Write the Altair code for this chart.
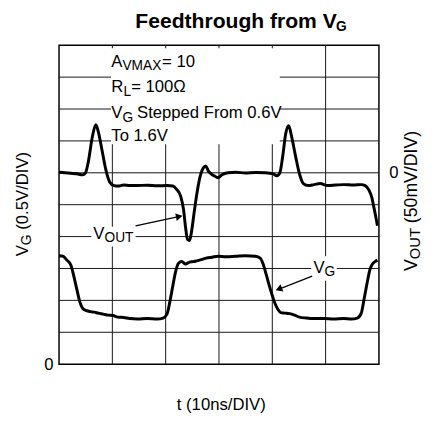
import altair as alt
import pandas as pd

# ---------------- data ----------------
# V_OUT trace: time (ns) and output voltage (mV)
vout_t = [0, 1.10, 2.21, 3.31, 4.42, 4.97, 5.52, 6.26, 6.90, 7.36, 8.10, 8.83, 9.57,
          10.31, 11.04, 12.15, 13.25, 14.72, 16.56, 18.40, 20.25, 21.35, 22.09, 22.82,
          23.37, 23.74, 24.11, 24.48, 24.85, 25.40, 25.95, 26.50, 27.06, 27.52, 27.98,
          28.53, 29.08, 29.82, 30.55, 31.66, 33.13, 34.97, 36.81, 38.65, 40.12, 40.86,
          41.41, 41.96, 42.52, 43.07, 43.62, 44.36, 45.09, 45.83, 46.75, 47.85, 48.96,
          50.43, 51.90, 53.37, 55.21, 56.69, 57.42, 58.16, 58.71, 59.08, 59.45, 59.72]
vout_mv = [0.8, 0.0, -0.8, -1.5, -3.1, 0.0, 18.5, 56.9, 75.4, 64.6, 33.8, 3.1, -15.4,
           -20.0, -20.8, -19.2, -20.0, -20.0, -19.5, -20.3, -20.0, -20.8, -26.2, -36.9,
           -58.5, -86.2, -104.6, -106.2, -92.3, -58.5, -27.7, -4.6, 7.7, 10.8, 3.1,
           -1.5, -4.6, -7.7, -3.1, 0.0, 0.8, -0.3, 0.5, 0.0, -1.5, -4.6,
           0.0, 26.2, 61.5, 73.8, 56.9, 26.2, -1.5, -16.9, -20.0, -18.5, -16.9,
           -20.0, -19.2, -18.5, -19.2, -18.5, -20.0, -27.7, -40.0, -55.4, -70.8, -83.1]

# V_G trace: time (ns) and gate voltage (V)
vg_t = [0, 0.74, 1.47, 2.21, 2.76, 3.31, 3.87, 4.42, 5.15, 5.89, 6.63, 7.36, 8.28, 9.20,
        10.12, 11.04, 12.15, 13.25, 14.72, 16.56, 18.40, 19.51, 20.25, 20.80, 21.35,
        21.90, 22.45, 23.01, 23.74, 24.48, 25.21, 25.95, 26.69, 27.61, 28.71, 29.82,
        31.29, 33.13, 34.97, 36.81, 37.73, 38.28, 38.83, 39.38, 39.94, 40.49, 41.04,
        41.59, 42.33, 43.25, 44.17, 45.09, 46.38, 47.85, 49.69, 51.53, 53.37, 54.84,
        55.94, 56.69, 57.24, 57.79, 58.34, 58.90, 59.27, 59.72]
vg_v = [1.700, 1.692, 1.631, 1.554, 1.385, 1.185, 0.985, 0.877, 0.838, 0.823, 0.815,
        0.800, 0.785, 0.769, 0.762, 0.738, 0.731, 0.715, 0.708, 0.715, 0.708, 0.723,
        0.785, 0.985, 1.231, 1.462, 1.585, 1.608, 1.569, 1.600, 1.608, 1.623, 1.638,
        1.662, 1.677, 1.692, 1.685, 1.692, 1.700, 1.692, 1.662, 1.569, 1.415, 1.246,
        1.092, 0.954, 0.862, 0.808, 0.800, 0.792, 0.769, 0.738, 0.723, 0.715, 0.715,
        0.708, 0.715, 0.708, 0.723, 0.800, 1.031, 1.277, 1.492, 1.585, 1.608, 1.631]

# grid / tick values
x_grid = [10, 20, 30, 40, 50]                    # 10 ns / DIV
vg_grid = [0.5, 1.0, 1.5, 2.0, 2.5, 3.0, 3.5, 4.0, 4.5]   # 0.5 V / DIV
vg_labels = [0]
vout_labels = [0]

# annotation texts
ann_text = ["A", "VMAX", "= 10", "R", "L", "= 100Ω", "V", "G", "Stepped From 0.6V",
            "To 1.6V", "V", "OUT", "V", "G", "t (10ns/DIV)",
            "V", "G", "(0.5V/DIV)", "V", "OUT", "(50mV/DIV)"]
ann_t = [9.81, 11.89, 19.33, 9.81, 12.07, 13.53, 9.81, 11.89, 14.63,
         9.81, 6.44, 8.52, 47.72, 49.80, 22.09,
         -5.89, -5.34, -5.89, 67.18, 67.73, 67.18]
ann_v = [4.662, 4.611, 4.662, 4.272, 4.211, 4.272, 3.862, 3.800, 3.862,
         3.503, 1.962, 1.923, 1.431, 1.385, -0.723,
         1.692, 1.866, 2.108, 1.4615, 1.646, 2.211]
ann_size = [17, 14, 17, 17, 14, 17, 17, 14, 17, 17, 17, 14, 17, 14, 17,
            17, 14, 17, 18, 15, 18]
ann_angle = [0] * 15 + [270] * 6

title_text = ["Feedthrough from V", "G"]
title_t = [52.09, 53.93]
title_v = [5.277, 5.223]
title_size = [21.5, 14]

# white label backgrounds (t1, t2, v1, v2)
box_t1 = [9.75, 6.07, 47.30]
box_t2 = [41.41, 14.36, 52.09]
box_v1 = [4.954, 2.154, 1.692]
box_v2 = [3.446, 1.846, 1.308]

# arrows: shaft start/end and head
arr_t1 = [14.36, 47.48]
arr_v1 = [2.169, 1.380]
arr_t2 = [22.64, 41.04]
arr_v2 = [2.315, 1.169]
head_t = [22.55, 41.23]
head_v = [2.315, 1.177]
head_angle = [348.5, 158.6]

# ---------------- tables ----------------
vout_df = pd.DataFrame({"t": vout_t, "mv": vout_mv})
vg_df = pd.DataFrame({"t": vg_t, "v": vg_v})
ann_df = pd.DataFrame({"text": ann_text, "t": ann_t, "v": ann_v,
                       "size": ann_size, "angle": ann_angle})
title_df = pd.DataFrame({"text": title_text, "t": title_t, "v": title_v, "size": title_size})
box_df = pd.DataFrame({"t": box_t1, "t2": box_t2, "v": box_v1, "v2": box_v2})
arr_df = pd.DataFrame({"t": arr_t1, "v": arr_v1, "t2": arr_t2, "v2": arr_v2})
head_df = pd.DataFrame({"t": head_t, "v": head_v, "angle": head_angle})
xgrid_df = pd.DataFrame({"t": x_grid})
ygrid_df = pd.DataFrame({"v": vg_grid})

FONT = "Liberation Sans"
GRID = "#151515"
xscale = alt.Scale(domain=[0, 60], nice=False, zero=False)
vscale = alt.Scale(domain=[0, 5], nice=False, zero=False)
mvscale = alt.Scale(domain=[-300, 200], nice=False, zero=False)

y_axis = alt.Axis(values=vg_labels, grid=False, ticks=False, domain=False, title=None,
                  labelFontSize=17, labelFont=FONT, labelColor="black",
                  labelPadding=6, labelFlush=False)
y2_axis = alt.Axis(orient="right", values=vout_labels, grid=False, ticks=False,
                   domain=False, title=None, labelFontSize=17, labelFont=FONT,
                   labelColor="black", labelPadding=10, labelFlush=False)

vgrid = alt.Chart(xgrid_df).mark_rule(color=GRID, strokeWidth=1).encode(
    x=alt.X("t:Q", scale=xscale, axis=None),
    y=alt.datum(0, scale=vscale, axis=None), y2=alt.datum(5))

hgrid = alt.Chart(ygrid_df).mark_rule(color=GRID, strokeWidth=1).encode(
    y=alt.Y("v:Q", scale=vscale, axis=None),
    x=alt.datum(0, scale=xscale, axis=None), x2=alt.datum(60))

boxes = alt.Chart(box_df).mark_rect(color="white").encode(
    x=alt.X("t:Q", scale=xscale, axis=None), x2="t2",
    y=alt.Y("v:Q", scale=vscale, axis=None), y2="v2")

vg_line = alt.Chart(vg_df).mark_line(color="black", strokeWidth=3,
                                     interpolate="monotone").encode(
    x=alt.X("t:Q", scale=xscale, axis=None),
    y=alt.Y("v:Q", scale=vscale, axis=y_axis))

vout_line = alt.Chart(vout_df).mark_line(color="black", strokeWidth=3,
                                         interpolate="monotone").encode(
    x=alt.X("t:Q", scale=xscale, axis=None),
    y=alt.Y("mv:Q", scale=mvscale, axis=y2_axis))

shafts = alt.Chart(arr_df).mark_rule(color="black", strokeWidth=1.3).encode(
    x=alt.X("t:Q", scale=xscale, axis=None), x2="t2",
    y=alt.Y("v:Q", scale=vscale, axis=None), y2="v2")

heads = alt.Chart(head_df).mark_point(shape="triangle-right", filled=True,
                                      color="black", opacity=1, size=60).encode(
    x=alt.X("t:Q", scale=xscale, axis=None),
    y=alt.Y("v:Q", scale=vscale, axis=None),
    angle=alt.Angle("angle:Q", scale=None))

texts = alt.Chart(ann_df).mark_text(align="left", baseline="alphabetic", font=FONT,
                                    color="black").encode(
    x=alt.X("t:Q", scale=xscale, axis=None),
    y=alt.Y("v:Q", scale=vscale, axis=None),
    text="text:N",
    size=alt.Size("size:Q", scale=None, legend=None),
    angle=alt.Angle("angle:Q", scale=None))

title = alt.Chart(title_df).mark_text(align="right", baseline="alphabetic", font=FONT,
                                      fontWeight="bold", color="black").encode(
    x=alt.X("t:Q", scale=xscale, axis=None),
    y=alt.Y("v:Q", scale=vscale, axis=None),
    text="text:N",
    size=alt.Size("size:Q", scale=None, legend=None))

chart = alt.layer(vgrid, hgrid, boxes, vg_line, vout_line, shafts, heads, texts,
                  title).resolve_scale(
    y="independent"
).properties(
    width=326, height=325,
    autosize=alt.AutoSizeParams(type="none"),
    padding={"left": 52, "top": 34, "right": 50, "bottom": 55},
    background="white",
).configure_view(stroke="black", strokeWidth=1.5)

chart.save("out.html", embed_options={"renderer": "svg", "actions": False})
